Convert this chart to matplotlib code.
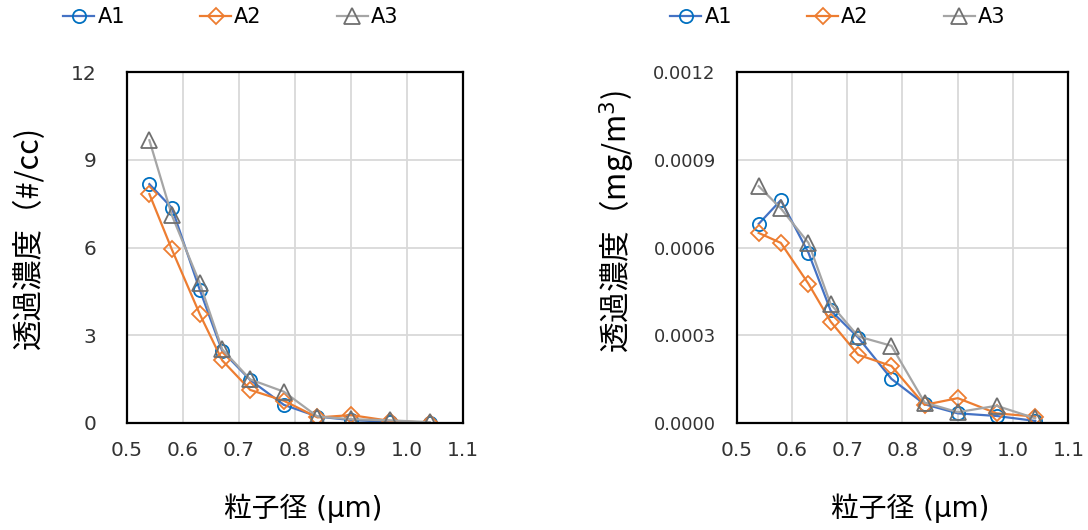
import matplotlib.pyplot as plt
from matplotlib.ticker import FormatStrFormatter

plt.rcParams['font.family'] = ['DejaVu Sans', 'Noto Sans CJK JP']

# 粒子径 (μm)
size_um = [0.54, 0.58, 0.63, 0.67, 0.72, 0.78, 0.84, 0.90, 0.97, 1.04]

# 個数濃度 (#/cc)
num_a1 = [8.17, 7.36, 4.55, 2.46, 1.47, 0.62, 0.22, 0.10, 0.04, 0.01]
num_a2 = [7.83, 5.94, 3.72, 2.14, 1.13, 0.76, 0.19, 0.27, 0.07, 0.01]
num_a3 = [9.67, 7.11, 4.78, 2.52, 1.49, 1.07, 0.22, 0.13, 0.09, 0.03]

# 質量濃度 (mg/m3)
mass_a1 = [0.000681, 0.000762, 0.000582, 0.000385, 0.000292, 0.000151,
           0.000064, 0.000033, 0.000024, 0.000007]
mass_a2 = [0.000650, 0.000616, 0.000476, 0.000347, 0.000233, 0.000195,
           0.000062, 0.000085, 0.000033, 0.000022]
mass_a3 = [0.000810, 0.000734, 0.000616, 0.000407, 0.000296, 0.000264,
           0.000070, 0.000037, 0.000059, 0.000016]

labels = ["A1", "A2", "A3"]
x_ticks = [0.5, 0.6, 0.7, 0.8, 0.9, 1.0, 1.1]
y_ticks_num = [0, 3, 6, 9, 12]
y_ticks_mass = [0.0, 0.0003, 0.0006, 0.0009, 0.0012]

styles = [
    dict(color="#4472C4", marker="o", mec="#0070C0", ms=9.5),
    dict(color="#ED7D31", marker="D", mec="#ED7D31", ms=8),
    dict(color="#A5A5A5", marker="^", mec="#6F6F6F", ms=11),
]

fig = plt.figure(figsize=(10.88, 5.30), dpi=100)
ax1 = fig.add_axes([0.1167, 0.2019, 0.309, 0.662])
ax2 = fig.add_axes([0.677, 0.2019, 0.305, 0.662])


def draw(ax, series, yticks, ylabel, fmt, tick_fs, ypad, ylab_xy, leg_x):
    for ys, lab, st in zip(series, labels, styles):
        ax.plot(size_um, ys, label=lab, linewidth=1.6,
                markerfacecolor="none", markeredgewidth=1.3, **st)
    ax.set_xlim(0.5, 1.1)
    ax.set_ylim(yticks[0], yticks[-1])
    ax.set_xticks(x_ticks)
    ax.set_yticks(yticks)
    ax.xaxis.set_major_formatter(FormatStrFormatter("%.1f"))
    ax.yaxis.set_major_formatter(FormatStrFormatter(fmt))
    ax.grid(color="#D9D9D9", linewidth=1.3)
    ax.set_axisbelow(True)
    for sp in ax.spines.values():
        sp.set_linewidth(1.6)
        sp.set_color("black")
    ax.tick_params(axis="x", length=0, labelsize=14.5, pad=13, labelcolor="#333333")
    ax.tick_params(axis="y", length=0, labelsize=tick_fs, pad=ypad, labelcolor="#333333")
    ax.set_xlabel("粒子径 (μm)", fontsize=20,
                  family=["DejaVu Sans", "Noto Sans CJK JP"])
    ax.xaxis.set_label_coords(0.523, -0.2)
    ax.set_ylabel(ylabel, fontsize=22,
                  family=["Noto Sans CJK JP", "DejaVu Sans"])
    ax.yaxis.set_label_coords(*ylab_xy)
    fig.legend(*ax.get_legend_handles_labels(), loc="center left",
               bbox_to_anchor=(leg_x, 1 - 17 / 530), ncol=3,
               frameon=False, fontsize=15, handlelength=1.5,
               columnspacing=3.6, handletextpad=0.15, borderpad=0,
               borderaxespad=0)


draw(ax1, [num_a1, num_a2, num_a3], y_ticks_num, "透過濃度（#/cc)", "%d",
     14.5, 22, (-0.245, 0.53), 63 / 1088)
draw(ax2, [mass_a1, mass_a2, mass_a3], y_ticks_mass,
     "透過濃度（mg/m$^3$)", "%.4f", 13, 15, (-0.30, 0.575), 670 / 1088)

fig.savefig("out.png", dpi=100)
